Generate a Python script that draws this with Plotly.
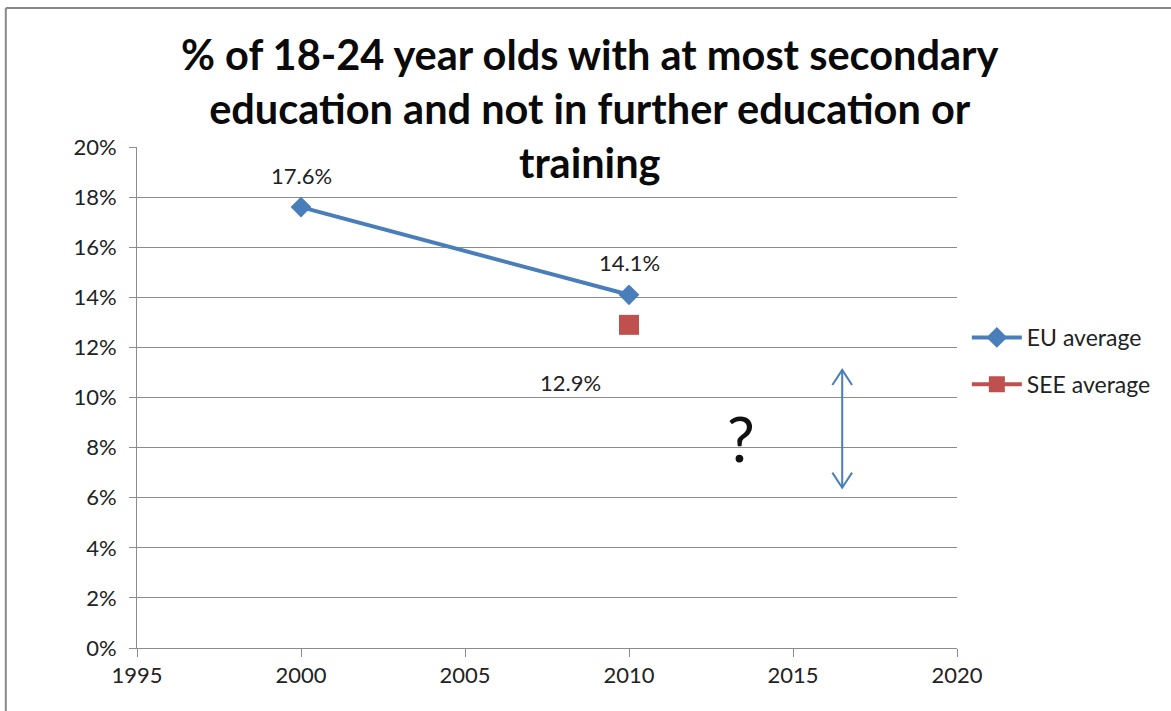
import plotly.graph_objects as go

# Early leavers from education and training (share of 18-24 year olds)
eu_years = [2000, 2010]
eu_values = [0.176, 0.141]
see_years = [2010]
see_values = [0.129]

x_ticks = [1995, 2000, 2005, 2010, 2015, 2020]
y_ticks = [0.00, 0.02, 0.04, 0.06, 0.08, 0.10, 0.12, 0.14, 0.16, 0.18, 0.20]

# double-headed "gap" arrow and the question mark beside it
gap_x = 2016.5
gap_top = 0.111
gap_bottom = 0.064
question_x = 2013.4
question_y = 0.084

EU_BLUE = "#4A7EBB"
SEE_RED = "#C0504D"
GRID = "#8C8C8C"
FONT = "Lato"

fig = go.Figure()

fig.add_trace(go.Scatter(
    x=eu_years, y=eu_values, name="EU average", mode="lines+markers",
    line=dict(color=EU_BLUE, width=4),
    marker=dict(symbol="diamond", size=16, color=EU_BLUE),
    legendgroup="eu",
))
fig.add_trace(go.Scatter(
    x=see_years, y=see_values, name="SEE average", mode="lines+markers",
    line=dict(color=SEE_RED, width=4),
    marker=dict(symbol="square", size=20, color=SEE_RED),
    legendgroup="see",
))

# value labels
label_font = dict(family=FONT, size=22, color="#222")
for x, y in zip(eu_years, eu_values):
    fig.add_annotation(x=x, y=y, text=f"{y * 100:.1f}%", showarrow=False,
                       yshift=32, font=label_font)
for x, y in zip(see_years, see_values):
    fig.add_annotation(x=x, y=y, text=f"{y * 100:.1f}%", showarrow=False,
                       xshift=-59, yshift=-58, font=label_font)

# arrow shaft and chevron heads
head_dx = 0.3
head_dy = 0.006
arrow_line = dict(color=EU_BLUE, width=2)
fig.add_shape(type="line", xref="x", yref="y", x0=gap_x, x1=gap_x,
              y0=gap_bottom, y1=gap_top, line=arrow_line)
fig.add_shape(type="path", xref="x", yref="y",
              path=f"M {gap_x - head_dx},{gap_top - head_dy} L {gap_x},{gap_top} L {gap_x + head_dx},{gap_top - head_dy}",
              line=arrow_line)
fig.add_shape(type="path", xref="x", yref="y",
              path=f"M {gap_x - head_dx},{gap_bottom + head_dy} L {gap_x},{gap_bottom} L {gap_x + head_dx},{gap_bottom + head_dy}",
              line=arrow_line)
fig.add_annotation(x=question_x, y=question_y, text="?", showarrow=False,
                   font=dict(family=FONT, size=62, color="#111"))

# chart title, three centred lines
fig.add_annotation(
    text="% of 18-24 year olds with at most secondary<br>education and not in further education or<br>training",
    xref="paper", yref="paper", x=(590 - 137) / 820, y=1.0778,
    xanchor="center", yanchor="middle", showarrow=False, align="center",
    font=dict(family=FONT, size=41.5, color="#0a0a0a", weight="bold"),
)

# outer chart frame (top and left edges visible)
frame = dict(color="#888888", width=2)
fig.add_shape(type="line", xref="paper", yref="paper", x0=-0.16, x1=1.3,
              y0=1.2775, y1=1.2775, line=frame)
fig.add_shape(type="line", xref="paper", yref="paper", x0=-0.16, x1=-0.16,
              y0=-0.2, y1=1.2775, line=frame)

fig.update_layout(
    width=1171, height=711,
    margin=dict(l=137, r=214, t=147, b=63),
    paper_bgcolor="white", plot_bgcolor="white",
    font=dict(family=FONT, color="#222"),
    legend=dict(
        x=1.012, xanchor="left", y=0.573, yanchor="middle",
        font=dict(family=FONT, size=23, color="#222"),
        traceorder="grouped", tracegroupgap=14, bgcolor="rgba(0,0,0,0)",
        itemwidth=50,
    ),
    showlegend=True,
)

fig.update_xaxes(
    range=[1995, 2020], tickvals=x_ticks, ticktext=[str(v) for v in x_ticks],
    showgrid=False, zeroline=False, showline=True, linecolor=GRID, linewidth=1,
    ticks="outside", ticklen=8, tickcolor=GRID,
    tickfont=dict(family=FONT, size=22, color="#222"),
)
fig.update_yaxes(
    range=[0, 0.2], tickvals=y_ticks, tickformat=".0%",
    showgrid=True, gridcolor=GRID, gridwidth=1, zeroline=False,
    showline=True, linecolor=GRID, linewidth=1,
    ticks="outside", ticklen=7, tickcolor=GRID, ticklabelstandoff=8,
    tickfont=dict(family=FONT, size=22, color="#222"),
)

fig.write_html("out.html")
